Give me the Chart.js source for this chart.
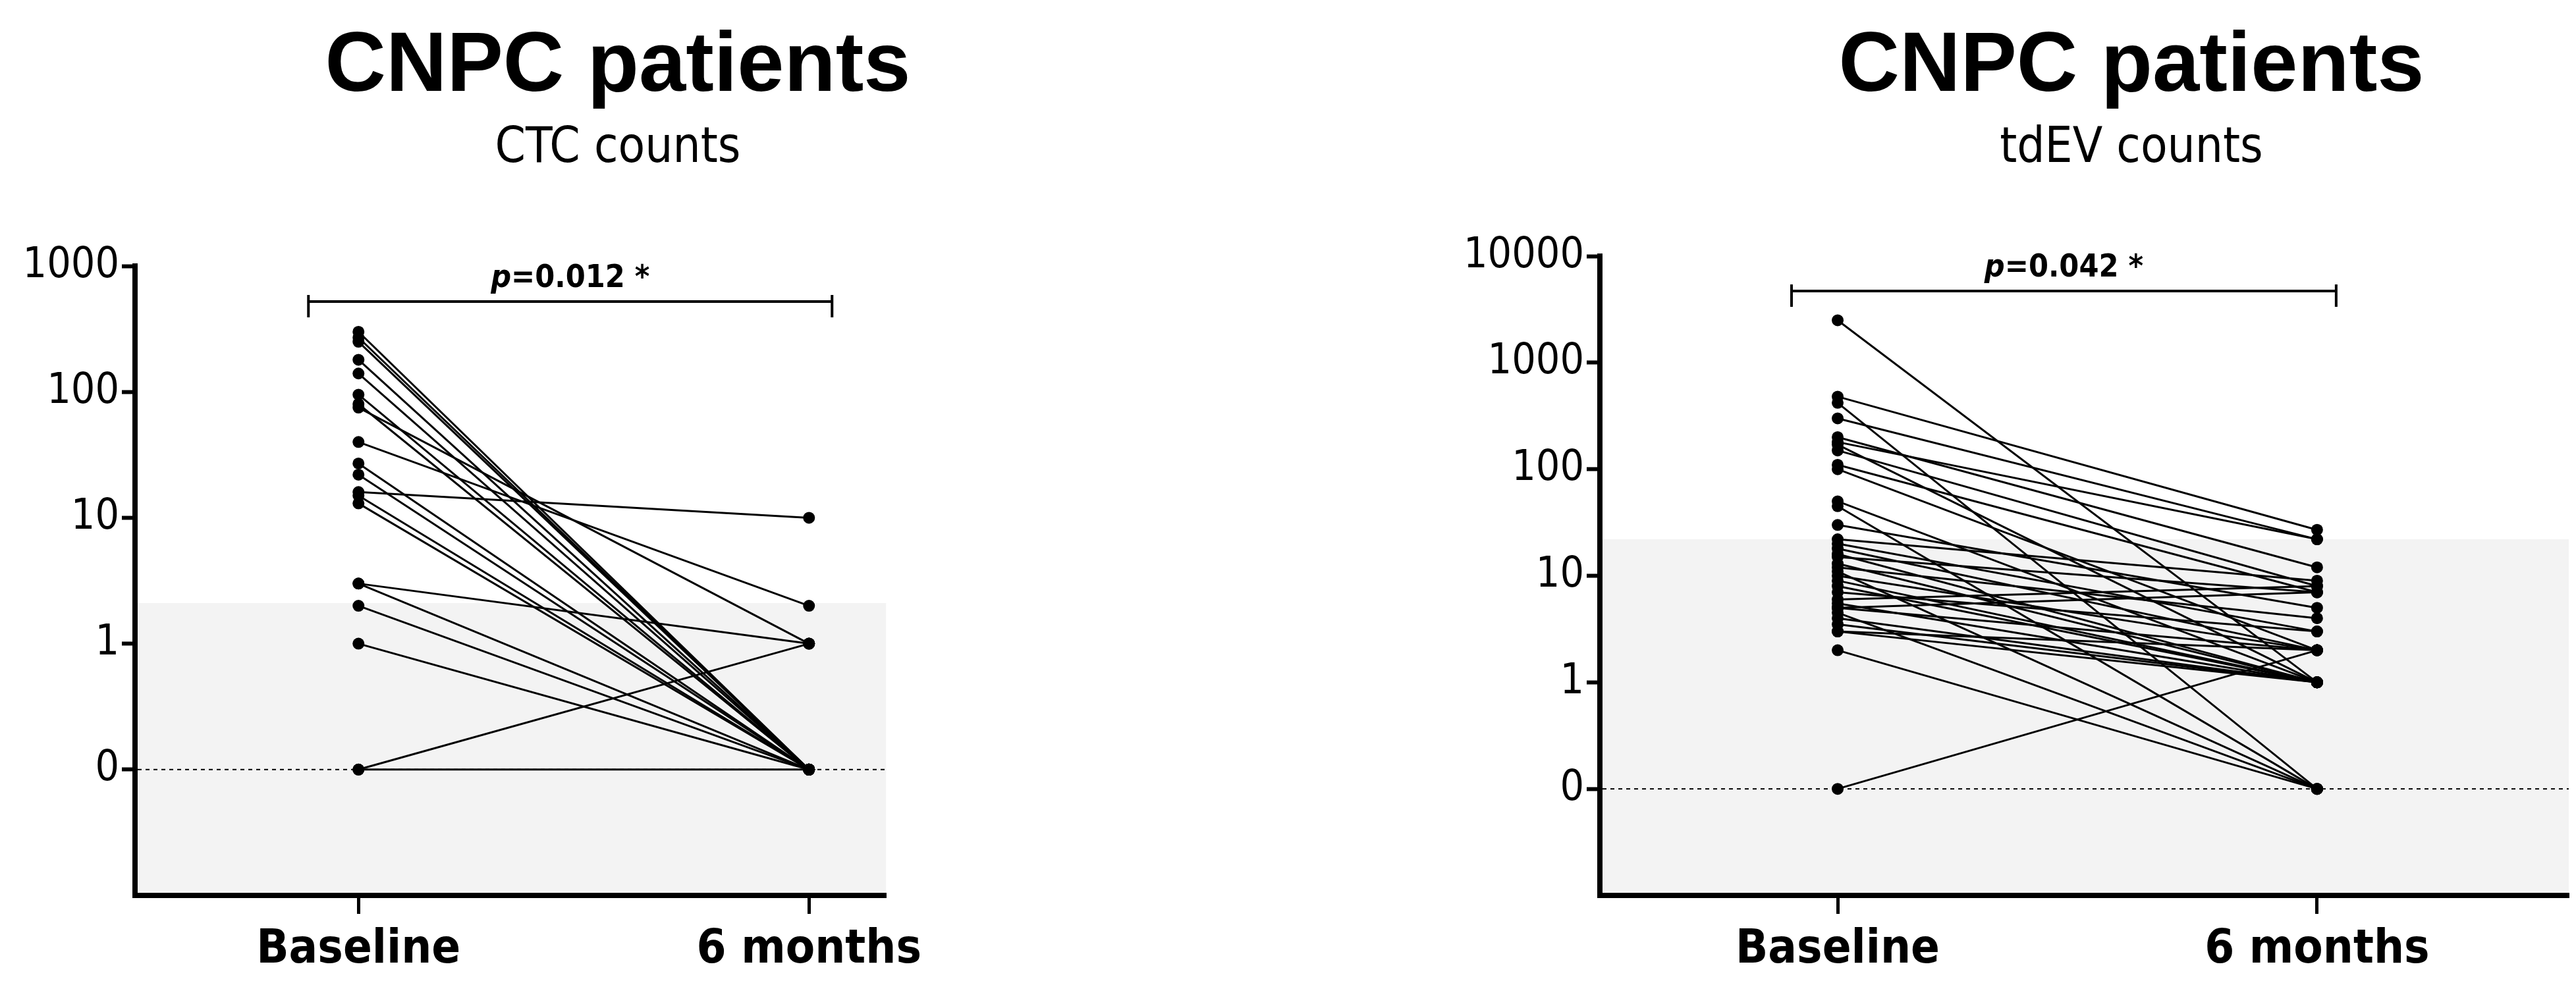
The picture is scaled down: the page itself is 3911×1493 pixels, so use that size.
<!DOCTYPE html>
<html><head><meta charset="utf-8">
<script src="https://cdn.jsdelivr.net/npm/chart.js@4"></script>
<style>
body{margin:0;width:3911px;height:1493px;background:#fff;position:relative;overflow:hidden;font-family:'Liberation Sans',Arial,sans-serif}
canvas{position:absolute;top:0}
.t{position:absolute;text-align:center;color:#000;white-space:nowrap;transform:translateX(-50%)}
.t1{font-weight:bold;font-size:128px;line-height:1}
.t2{font-size:74px;line-height:1;font-family:'Liberation Sans Narrow','DejaVu Sans Condensed',Arial,sans-serif}
</style></head><body>
<div class="t t1" style="left:938px;top:30px">CNPC patients</div>
<div class="t t2" style="left:938px;top:183px">CTC counts</div>
<div class="t t1" style="left:3236px;top:30px">CNPC patients</div>
<div class="t t2" style="left:3236px;top:183px">tdEV counts</div>
<div style="position:absolute;left:0;top:0;width:1412px;height:1493px"><canvas id="c1"></canvas></div>
<div style="position:absolute;left:2200px;top:0;width:1711px;height:1493px"><canvas id="c2"></canvas></div>
<script>
const timepoints = ['Baseline', '6 months'];
const ctcBaseline = [300, 270, 250, 180, 140, 95, 80, 75, 40, 27, 22, 16, 15, 13, 3, 3, 2, 1, 0, 0];
const ctcMonth6   = [0,   0,   0,   0,   0,   0,  0,  1,  2,  0,  0,  10, 0,  0,  1, 0, 0, 0, 1, 0];
const ctcTicks = [1000, 100, 10, 1, 0];
const ctcThreshold = 2.1;
const ctcP = '0.012 *';

const evBaseline = [2500, 480, 420, 300, 200, 180, 170, 150, 110, 100, 50, 45, 30, 22, 20, 18, 16, 15, 13, 12, 11, 10, 9, 8, 7, 6, 5.5, 5, 5, 4.5, 4, 3.5, 3, 3, 2, 0];
const evMonth6   = [1,    27,  0,   22,  12,  22,  1,   8,   7,   2,   1,  0,  5,  9,  3,  2,  1,  7,  1,  4,  0,  2,  1, 1, 3, 8, 1,   7, 2, 0,   1, 1,   2, 1, 0, 2];
const evTicks = [10000, 1000, 100, 10, 1, 0];
const evThreshold = 22;
const evP = '0.042 *';

const ZERO = 0.1; // position where a count of 0 is drawn on the log axis
const FONT = "'Liberation Sans Narrow','DejaVu Sans Condensed',Arial,sans-serif";

function makeChart(id, base, m6, ticks, threshold, pText, cfg) {
  const datasets = base.map((b, i) => ({
    data: [{x: 0, y: b === 0 ? ZERO : b}, {x: 1, y: m6[i] === 0 ? ZERO : m6[i]}],
    borderColor: '#000', backgroundColor: '#000', borderWidth: 3,
    pointRadius: 9, pointBackgroundColor: '#000', pointBorderWidth: 0, showLine: true
  }));
  const deco = {
    id: 'deco',
    beforeDatasetsDraw(chart) {
      const {ctx, chartArea: a, scales: {x, y}} = chart;
      ctx.save();
      const ty = y.getPixelForValue(threshold);
      ctx.fillStyle = '#f3f3f3';
      ctx.fillRect(a.left + 4, ty, a.right - a.left - 4, a.bottom - 4 - ty);
      const zy = y.getPixelForValue(ZERO);
      ctx.strokeStyle = '#000'; ctx.lineWidth = 2; ctx.setLineDash([6, 6]);
      ctx.beginPath(); ctx.moveTo(a.left + 4, zy); ctx.lineTo(a.right, zy); ctx.stroke();
      ctx.restore();
    },
    afterDraw(chart) {
      const {ctx, scales: {x, y}} = chart;
      const x0 = x.getPixelForValue(0) - cfg.bl, x1 = x.getPixelForValue(1) + cfg.br;
      const by = cfg.by;
      ctx.save();
      ctx.strokeStyle = '#000'; ctx.lineWidth = 4;
      ctx.beginPath();
      ctx.moveTo(x0, by); ctx.lineTo(x1, by);
      ctx.moveTo(x0, by - 10); ctx.lineTo(x0, by + 24);
      ctx.moveTo(x1, by - 10); ctx.lineTo(x1, by + 24);
      ctx.stroke();
      const cx = (x0 + x1) / 2;
      ctx.fillStyle = '#000'; ctx.textBaseline = 'alphabetic';
      ctx.font = "italic bold 48px " + FONT;
      const w1 = ctx.measureText('p').width;
      ctx.font = "bold 48px " + FONT;
      const w2 = ctx.measureText('=' + pText).width;
      const sx = cx - (w1 + w2) / 2;
      ctx.font = "italic bold 48px " + FONT; ctx.textAlign = 'left';
      ctx.fillText('p', sx, by - 22);
      ctx.font = "bold 48px " + FONT;
      ctx.fillText('=' + pText, sx + w1, by - 22);
      ctx.restore();
    }
  };
  return new Chart(document.getElementById(id), {
    type: 'scatter',
    data: {datasets},
    options: {
      responsive: true, maintainAspectRatio: false, animation: false,
      layout: {padding: {top: cfg.top, right: cfg.right, bottom: 0, left: 0}},
      plugins: {legend: {display: false}, tooltip: {enabled: false}},
      scales: {
        x: {
          type: 'linear', min: cfg.xmin, max: cfg.xmax,
          afterBuildTicks: s => { s.ticks = [{value: 0}, {value: 1}]; },
          afterFit: s => { s.height = 133; },
          ticks: {callback: v => timepoints[v], color: '#000', padding: 12,
                  font: {family: FONT, size: 72, weight: 'bold'}, maxRotation: 0},
          grid: {drawOnChartArea: false, drawTicks: true, tickLength: 28, tickWidth: 5, color: '#000'},
          border: {width: 8, color: '#000'}
        },
        y: {
          type: 'logarithmic', min: 0.01, max: ticks[0],
          afterBuildTicks: s => { s.ticks = ticks.map(v => ({value: v === 0 ? ZERO : v})); },
          afterFit: s => { s.width = cfg.yw; },
          ticks: {callback: v => (Math.abs(v - ZERO) < 1e-9 ? '0' : String(v)), color: '#000', padding: 4,
                  font: {family: FONT, size: 64}},
          grid: {drawOnChartArea: false, drawTicks: true, tickLength: 20, tickWidth: 6, color: '#000'},
          border: {width: 8, color: '#000'}
        }
      }
    },
    plugins: [deco]
  });
}

makeChart('c1', ctcBaseline, ctcMonth6, ctcTicks, ctcThreshold, ctcP,
  {top: 404, right: 10, yw: 205, xmin: -0.496, xmax: 1.171, bl: 76, br: 35, by: 458});
makeChart('c2', evBaseline, evMonth6, evTicks, evThreshold, evP,
  {top: 389, right: 11, yw: 229, xmin: -0.496, xmax: 1.525, bl: 70, br: 29, by: 442});
</script>
</body></html>
